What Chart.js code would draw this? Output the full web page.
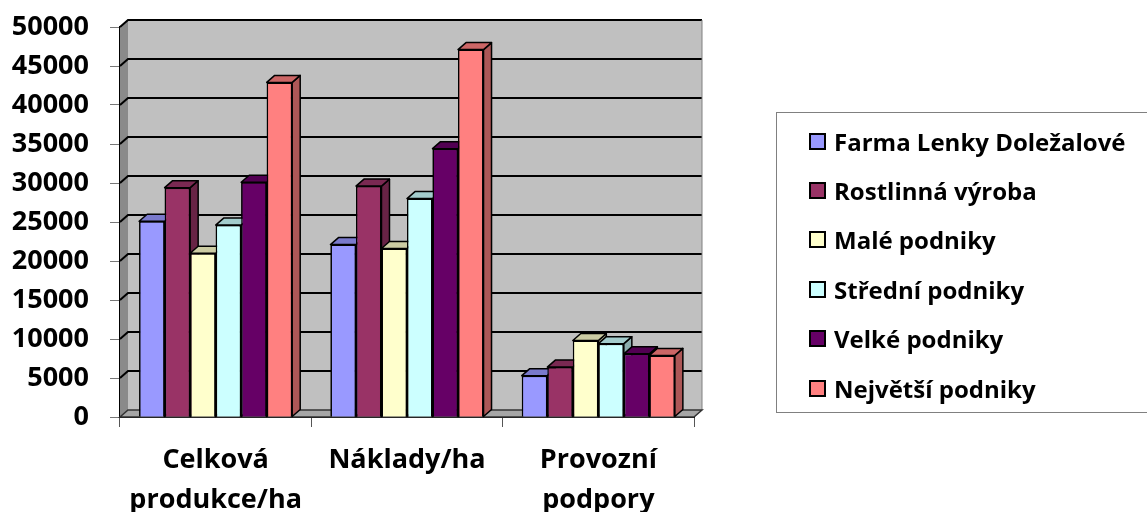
<!DOCTYPE html>
<html>
<head>
<meta charset="utf-8">
<script src="https://cdn.jsdelivr.net/npm/chart.js@4.4.1/dist/chart.umd.min.js"></script>
<style>
  html, body { margin: 0; padding: 0; background: #fff; }
  #wrap { position: relative; width: 1147px; height: 512px; overflow: hidden; }
  #legend { position: absolute; left: 776px; top: 112px; width: 400px; height: 301px;
            border: 1.5px solid #808080; box-sizing: border-box; }
  .item { position: absolute; left: 32px; height: 30px; display: flex; align-items: center;
          font: bold 24px "Open Sans", sans-serif; color: #000; white-space: nowrap; }
  .box { width: 13px; height: 13px; border: 2px solid #000; margin-right: 8px; }
</style>
</head>
<body>
<div id="wrap">
  <canvas id="chart" width="1147" height="512"></canvas>
  <div id="legend"></div>
</div>
<script>
const categories = [['Celková', 'produkce/ha'], 'Náklady/ha', ['Provozní', 'podpory']];
const seriesNames = ['Farma Lenky Doležalové', 'Rostlinná výroba', 'Malé podniky',
                     'Střední podniky', 'Velké podniky', 'Největší podniky'];
const farma = [25100, 22100, 5300];
const rostlinna = [29400, 29600, 6400];
const male = [21000, 21600, 9800];
const stredni = [24600, 28000, 9400];
const velke = [30100, 34400, 8100];
const nejvetsi = [42900, 47100, 7900];
const colors = ['#9999FF', '#993366', '#FFFFCC', '#CCFFFF', '#660066', '#FF8080'];

const FONT = '"Open Sans", sans-serif';
const DX = 8, DY = 7; // 3d depth

// darken a hex colour
function shade(hex, f) {
  const n = parseInt(hex.slice(1), 16);
  const r = Math.round(((n >> 16) & 255) * f);
  const g = Math.round(((n >> 8) & 255) * f);
  const b = Math.round((n & 255) * f);
  return `rgb(${r},${g},${b})`;
}

function poly(ctx, pts, fill, stroke) {
  ctx.beginPath();
  ctx.moveTo(pts[0][0], pts[0][1]);
  for (let i = 1; i < pts.length; i++) ctx.lineTo(pts[i][0], pts[i][1]);
  ctx.closePath();
  if (fill) { ctx.fillStyle = fill; ctx.fill(); }
  if (stroke) { ctx.strokeStyle = stroke; ctx.stroke(); }
}

// back wall, side wall and floor
const wallPlugin = {
  id: 'wall3d',
  beforeDatasetsDraw(chart) {
    const { ctx, chartArea: a, scales: { y } } = chart;
    ctx.save();
    poly(ctx, [[a.left, a.top], [a.left + DX, a.top - DY], [a.left + DX, a.bottom - DY], [a.left, a.bottom]], '#8a8a8a');
    ctx.fillStyle = '#c0c0c0';
    ctx.fillRect(a.left + DX, a.top - DY, a.right - a.left, a.bottom - a.top);
    ctx.lineWidth = 2;
    ctx.strokeStyle = '#000';
    y.ticks.forEach(t => {
      if (t.value === 0) return;
      const py = y.getPixelForValue(t.value);
      ctx.beginPath();
      ctx.moveTo(a.left, py);
      ctx.lineTo(a.left + DX, py - DY);
      ctx.lineTo(a.right + DX, py - DY);
      ctx.stroke();
    });
    ctx.lineWidth = 1;
    ctx.strokeStyle = '#808080';
    ctx.beginPath();
    ctx.moveTo(a.right + DX, a.top - DY);
    ctx.lineTo(a.right + DX, a.bottom - DY);
    ctx.stroke();
    ctx.lineWidth = 1.5;
    poly(ctx, [[a.left, a.bottom], [a.right, a.bottom], [a.right + DX, a.bottom - DY], [a.left + DX, a.bottom - DY]], '#a6a6a6', '#333');
    ctx.restore();
  }
};

// side + top faces, then the front face again, series by series left to right
const barPlugin = {
  id: 'bar3d',
  afterDatasetsDraw(chart) {
    const { ctx } = chart;
    ctx.save();
    ctx.lineWidth = 1.5;
    ctx.lineJoin = 'round';
    chart.data.datasets.forEach((ds, i) => {
      const col = colors[i];
      chart.getDatasetMeta(i).data.forEach(bar => {
        const { x, y, base, width } = bar.getProps(['x', 'y', 'base', 'width'], true);
        const l = x - width / 2, r = x + width / 2;
        poly(ctx, [[r, y], [r + DX, y - DY], [r + DX, base - DY], [r, base]], shade(col, 0.68), '#000');
        poly(ctx, [[l, y], [r, y], [r + DX, y - DY], [l + DX, y - DY]], shade(col, 0.8), '#000');
        bar.draw(ctx);
      });
    });
    ctx.restore();
  }
};

const series = [farma, rostlinna, male, stredni, velke, nejvetsi];

new Chart(document.getElementById('chart'), {
  type: 'bar',
  data: {
    labels: categories,
    datasets: series.map((d, i) => ({
      label: seriesNames[i],
      data: d,
      backgroundColor: colors[i],
      borderColor: '#000',
      borderWidth: 1.5,
      barPercentage: 1,
      categoryPercentage: 0.8
    }))
  },
  options: {
    responsive: false,
    animation: false,
    layout: { padding: { top: 27, right: 453, bottom: 0, left: 0 } },
    plugins: { legend: { display: false }, tooltip: { enabled: false } },
    scales: {
      x: {
        grid: { drawOnChartArea: false, tickLength: 10, color: '#555', offset: true },
        border: { color: '#000', width: 2 },
        ticks: { color: '#000', padding: 13, font: { family: FONT, size: 27, weight: 'bold', lineHeight: 1.48 } },
        afterFit(s) { s.height = 95; s.paddingLeft = 0; s.paddingRight = 0; }
      },
      y: {
        min: 0,
        max: 50000,
        grid: { drawOnChartArea: false, tickLength: 10, color: '#777' },
        border: { color: '#000', width: 2 },
        ticks: {
          stepSize: 5000, color: '#000', padding: 21,
          font: { family: FONT, size: 27, weight: 'bold' },
          callback: v => String(v)
        },
        afterFit(s) { s.width = 120; s.paddingTop = 0; s.paddingBottom = 0; }
      }
    }
  },
  plugins: [wallPlugin, barPlugin]
});

// legend
const legend = document.getElementById('legend');
seriesNames.forEach((name, i) => {
  const it = document.createElement('div');
  it.className = 'item';
  it.style.top = (140 - 112 - 15 + i * 49.4) + 'px';
  it.innerHTML = `<span class="box" style="background:${colors[i]}"></span>${name}`;
  legend.appendChild(it);
});
</script>
</body>
</html>
